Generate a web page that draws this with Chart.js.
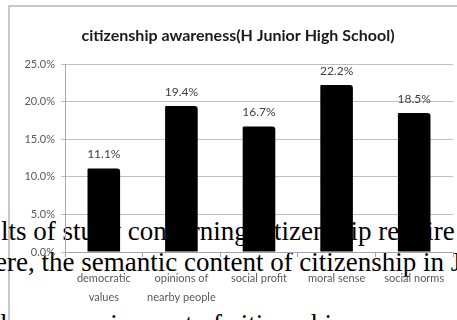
<!DOCTYPE html>
<html>
<head>
<meta charset="utf-8" />
<title>citizenship awareness</title>
<script src="https://cdn.jsdelivr.net/npm/chart.js@4.4.0/dist/chart.umd.min.js"></script>
<style>
html, body { margin: 0; padding: 0; background: #fff; overflow: hidden; width: 457px; height: 320px; }
.frame { position: absolute; left: 8px; top: 5px; width: 600px; height: 400px; border: 2px solid #c8c8c8; }
.page { position: absolute; white-space: nowrap; font-family: "Liberation Serif", "Times New Roman", serif; font-size: 27px; line-height: 27px; color: #000; }
#chart { position: absolute; left: 0; top: 0; }
</style>
</head>
<body>
<div class="frame"></div>
<!-- scanned page text that runs behind the chart -->
<div class="page" style="left:1px; top:218px;">lts of study concerning citizenship require</div>
<div class="page" style="left:-5px; top:249px;">ere, the semantic content of citizenship in J</div>
<div class="page" style="left:0px; top:311px;">l as a requirement of citizenship are</div>

<canvas id="chart" width="476" height="320"></canvas>

<script>
// chart data
var categories = [['democratic', 'values'], ['opinions of', 'nearby people'], 'social profit', 'moral sense', 'social norms'];
var values = [11.1, 19.4, 16.7, 22.2, 18.5];
var yMin = 0;
var yMax = 25;
var yStep = 5;
var chartTitle = 'citizenship awareness(H Junior High School)';

var chartFont = 'Lato, "Liberation Sans", sans-serif';

// title is centred on the frame, not on the canvas
var frameTitle = {
    id: 'frameTitle',
    afterDraw: function(chart) {
        var ctx = chart.ctx;
        ctx.save();
        ctx.font = 'bold 16px ' + chartFont;
        ctx.fillStyle = '#1a1a1a';
        ctx.textAlign = 'center';
        ctx.textBaseline = 'middle';
        ctx.fillText(chartTitle, 238, 36);
        ctx.restore();
    }
};

// value labels above the bars
var barLabels = {
    id: 'barLabels',
    afterDatasetsDraw: function(chart) {
        var ctx = chart.ctx;
        var meta = chart.getDatasetMeta(0);
        ctx.save();
        ctx.font = '12px ' + chartFont;
        ctx.fillStyle = '#404040';
        ctx.textAlign = 'center';
        ctx.textBaseline = 'middle';
        meta.data.forEach(function(bar, i) {
            ctx.fillText(values[i].toFixed(1) + '%', bar.x, bar.y - 14);
        });
        ctx.restore();
    }
};

var chart = new Chart('chart', {
    type: 'bar',
    data: {
        labels: categories,
        datasets: [{
            data: values,
            backgroundColor: '#000000',
            borderRadius: { topRight: 3, topLeft: 1 },
            borderSkipped: 'bottom',
            barPercentage: 0.42,
            categoryPercentage: 1.0
        }]
    },
    options: {
        responsive: false,
        animation: false,
        layout: { padding: { left: 0, right: 23, top: 64, bottom: 0 } },
        plugins: {
            legend: { display: false },
            tooltip: { enabled: false },
            title: { display: false }
        },
        scales: {
            x: {
                afterFit: function(scale) { scale.height = 68; },
                grid: { offset: true, drawOnChartArea: false, tickLength: 5, color: '#a6a6a6' },
                border: { color: '#a6a6a6' },
                ticks: {
                    color: '#595959',
                    padding: 12,
                    maxRotation: 0,
                    autoSkip: false,
                    font: { family: chartFont, size: 11, lineHeight: 1.7 }
                }
            },
            y: {
                min: yMin,
                max: yMax,
                afterFit: function(scale) { scale.width = 65; },
                grid: { color: '#bfbfbf', tickLength: 4 },
                border: { color: '#a6a6a6' },
                ticks: {
                    stepSize: yStep,
                    color: '#595959',
                    padding: 6,
                    font: { family: chartFont, size: 11 },
                    callback: function(v) { return v.toFixed(1) + '%'; }
                }
            }
        }
    },
    plugins: [barLabels, frameTitle]
});
</script>
</body>
</html>
